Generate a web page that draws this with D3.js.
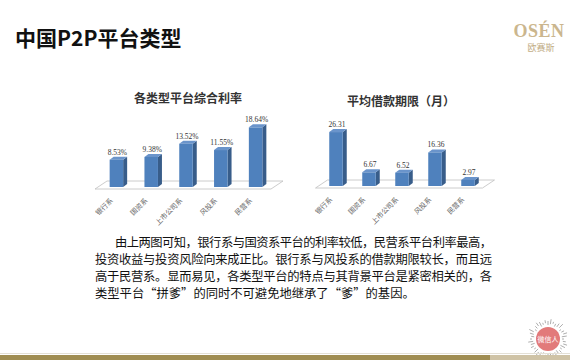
<!DOCTYPE html>
<meta charset="utf-8">
<style>
  body { margin: 0; background: #fff; }
  svg { display: block; font-family: "Noto Sans CJK SC", sans-serif; }
  .bar-front { fill: #4f81bd; }
  .bar-side { fill: #385d8a; }
  .bar-top { fill: #6a94cb; }
  .floor { fill: #fff; stroke: #bfbfbf; stroke-width: 0.8; }
  .val { font-family: "Liberation Serif", serif; font-size: 7.5px; fill: #333; text-anchor: middle; }
  .cat { font-size: 7px; fill: #666; text-anchor: end; }
  .ctitle { font-size: 12px; font-weight: bold; fill: #333; text-anchor: middle; }
  .body { font-size: 12.3px; fill: #111; }
</style>
<body></body>
<script src="https://d3js.org/d3.v7.min.js"></script>
<script>

var categories = ["银行系", "国资系", "上市公司系", "风投系", "民营系"];
var rates = [8.53, 9.38, 13.52, 11.55, 18.64];   // 各类型平台综合利率 (%)
var terms = [26.31, 6.67, 6.52, 16.36, 2.97];    // 平均借款期限 (月)

var bodyLines = [
  "由上两图可知，银行系与国资系平台的利率较低，民营系平台利率最高，",
  "投资收益与投资风险向来成正比。银行系与风投系的借款期限较长，而且远",
  "高于民营系。显而易见，各类型平台的特点与其背景平台是紧密相关的，各",
  "类型平台“拼爹”的同时不可避免地继承了“爹”的基因。"
];

var W = 570, H = 360;
var svg = d3.select("body").append("svg")
    .attr("width", W)
    .attr("height", H);

// page title
svg.append("text")
    .attr("x", 15).attr("y", 46)
    .style("font-size", "21px").style("font-weight", "bold").style("fill", "#111")
    .text("中国P2P平台类型");

// logo
svg.append("text")
    .attr("x", 539).attr("y", 37)
    .attr("text-anchor", "middle")
    .style("font-family", "'Liberation Serif', serif").style("font-size", "18px")
    .style("font-weight", "bold")
    .style("letter-spacing", "0.5px").style("fill", "#cbb68e")
    .text("OSÉN");
svg.append("text")
    .attr("x", 541).attr("y", 51)
    .attr("text-anchor", "middle")
    .style("font-size", "9px").style("fill", "#c2ad86")
    .text("欧赛斯");

// 3d bar chart helper
function barChart(opt) {
  var g = svg.append("g");
  var x = d3.scaleBand().domain(categories).range(opt.xr);
  var y = d3.scaleLinear().domain(opt.yd).range(opt.yr);
  var bw = 13.5, dx = 4, dy = -3;
  var base = y(0);
  var xa = opt.xr[0], xb = opt.xr[1];

  g.append("text").attr("class", "ctitle")
      .attr("x", (xa + xb) / 2 + opt.titleDx).attr("y", opt.titleY)
      .text(opt.title);

  // floor
  g.append("path").attr("class", "floor")
      .attr("d", "M" + (xa - 4) + "," + (base + 2) +
                 "L" + (xa + 8) + "," + (base - 6) +
                 "L" + (xb + 10) + "," + (base - 6) +
                 "L" + (xb - 2) + "," + (base + 2) + "Z");

  var bars = g.selectAll("g.bar").data(opt.values).enter().append("g").attr("class", "bar");
  bars.each(function(d, i) {
    var b = d3.select(this);
    var x0 = x(categories[i]) + (x.bandwidth() - bw) / 2;
    var x1 = x0 + bw;
    var yt = y(d);
    b.append("path").attr("class", "bar-side")
        .attr("d", "M" + x1 + "," + yt + "L" + (x1 + dx) + "," + (yt + dy) +
                   "L" + (x1 + dx) + "," + (base + dy) + "L" + x1 + "," + base + "Z");
    b.append("path").attr("class", "bar-top")
        .attr("d", "M" + x0 + "," + yt + "L" + (x0 + dx) + "," + (yt + dy) +
                   "L" + (x1 + dx) + "," + (yt + dy) + "L" + x1 + "," + yt + "Z");
    b.append("rect").attr("class", "bar-front")
        .attr("x", x0).attr("y", yt).attr("width", bw).attr("height", base - yt);
    b.append("text").attr("class", "val")
        .attr("x", x0 + bw / 2 + 1).attr("y", yt - 5)
        .text(opt.fmt(d));
  });

  g.selectAll("text.cat").data(categories).enter().append("text")
      .attr("class", "cat")
      .attr("transform", function(d) {
        return "translate(" + (x(d) + x.bandwidth() / 2 - 3) + "," + (base + 14) + ") rotate(-45)";
      })
      .text(function(d) { return d; });
}

barChart({
  values: rates, xr: [99, 273], yd: [0, 20], yr: [187, 123],
  title: "各类型平台综合利率", titleY: 103, titleDx: 2,
  fmt: function(d) { return d.toFixed(2) + "%"; }
});

barChart({
  values: terms, xr: [319.5, 484.5], yd: [0, 30], yr: [186, 124.5],
  title: "平均借款期限（月）", titleY: 106, titleDx: -1,
  fmt: function(d) { return d.toFixed(2); }
});

// body text
var lineStart = [115, 95, 95, 95];
var lineLen = [377, 397, 397, null];
bodyLines.forEach(function(t, i) {
  var tx = svg.append("text").attr("class", "body")
      .attr("x", lineStart[i]).attr("y", 247 + i * 17)
      .text(t);
  if (lineLen[i]) tx.attr("textLength", lineLen[i]).attr("lengthAdjust", "spacing");
});

// stamp bottom right
var stamp = svg.append("g").attr("transform", "translate(548,339)");
d3.range(40).forEach(function(k) {
  var a = k / 40 * Math.PI * 2;
  var r0 = 14 + (k % 3), r1 = r0 + 2 + (k % 4);
  stamp.append("line")
      .attr("x1", Math.cos(a) * r0).attr("y1", Math.sin(a) * r0)
      .attr("x2", Math.cos(a) * r1).attr("y2", Math.sin(a) * r1)
      .attr("stroke", "#999").attr("stroke-width", 0.8);
});
stamp.append("circle").attr("r", 12).attr("fill", "#e27a7a");
stamp.append("text").attr("text-anchor", "middle").attr("y", 3)
    .style("font-size", "7px").style("fill", "#fff").text("微信人");

// bottom stripe
svg.append("rect").attr("x", 0).attr("y", 353).attr("width", W).attr("height", 1).attr("fill", "#e4e0d6");
svg.append("rect").attr("x", 0).attr("y", 355).attr("width", 490).attr("height", 5).attr("fill", "#a08d52");
svg.append("rect").attr("x", 490).attr("y", 355).attr("width", 80).attr("height", 5).attr("fill", "#cfc3a6");

</script>
